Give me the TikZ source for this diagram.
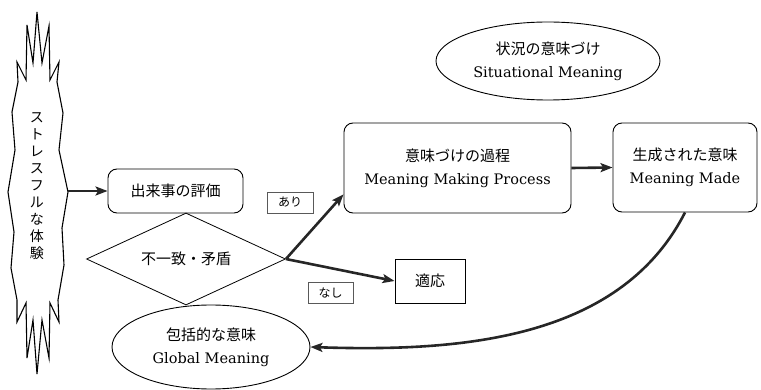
\documentclass[tikz,border=0pt]{standalone}
\usepackage{fontspec}
\newfontfamily\jp{Noto Sans CJK JP}
\newfontfamily\lt{DejaVu Serif}
\usetikzlibrary{shapes.geometric,arrows.meta,calc}
\newcommand\latf{\lt\fontsize{14.5}{23}\selectfont}
\newcommand\jt{\jp\fontsize{15}{23}\selectfont}
\begin{document}
\begin{tikzpicture}[x=1pt,y=-1pt,
  rbox/.style={draw,line width=0.9pt,rounded corners=9pt,inner sep=0pt,align=center,font=\latf},
  sbox/.style={draw,line width=0.9pt,inner sep=0pt,align=center,font=\latf},
  lbl/.style={draw=black!65,line width=0.7pt,inner sep=0pt,font=\jp\fontsize{12}{14}\selectfont,minimum height=21pt},
  ell/.style={draw,line width=0.9pt,ellipse,inner sep=0pt,align=center,font=\latf},
  arr/.style={line width=2.6pt,draw=black!85,-{Stealth[length=12pt,width=9pt,inset=2.5pt]}},
]
\useasboundingbox (0,0) rectangle (761,390);

% stressful experience shape
\draw[line width=1.1pt,line join=miter] (18,82) -- (17,62) -- (26,80) -- (27,25) -- (33,63) -- (37,12) -- (42,63)
  -- (49,26) -- (50,80) -- (59,62) -- (57,82) -- (63,113) -- (59,150) -- (68,192) -- (62,228)
  -- (64,265) -- (58,300) -- (59,322) -- (50,303) -- (49,358) -- (42,320) -- (37,374) -- (33,320)
  -- (27,358) -- (26,303) -- (17,322) -- (17,300) -- (11,268) -- (14,232) -- (8,192) -- (15,150)
  -- (12,112) -- cycle;
\node[inner sep=0pt,align=center,font=\jp\fontsize{14}{17}\selectfont] (stress) at (37,186)
  {ス\\ト\\レ\\ス\\フ\\ル\\な\\体\\験};
\coordinate (stressR) at (68,191);

\node[rbox,minimum width=135pt,minimum height=44pt] (eval) at (175.5,191) {\jt 出来事の評価};
\node[draw,line width=0.8pt,diamond,inner sep=0pt,shape aspect=2.16,minimum width=199pt,minimum height=92pt,
  font=\jt] (diam) at (186,259) {不一致・矛盾};
\node[ell,minimum width=198pt,minimum height=84pt] (gm) at (211,347) {{\jt 包括的な意味}\\Global Meaning};
\node[ell,minimum width=224pt,minimum height=78pt] (sm) at (548,61) {{\jt 状況の意味づけ}\\Situational Meaning};

\node[lbl,minimum width=46pt] (ari) at (290,202.5) {あり};
\node[lbl,minimum width=45pt] (nashi) at (330.5,293) {なし};
\node[sbox,minimum width=70pt,minimum height=44pt] (adapt) at (430,281) {\jt 適応};

\node[rbox,minimum width=227pt,minimum height=90pt] (mmp) at (457.5,168) {{\jt 意味づけの過程}\\Meaning Making Process};
\node[rbox,minimum width=144pt,minimum height=89pt] (mm) at (685,167.5) {{\jt 生成された意味}\\Meaning Made};

\draw[arr] (stressR) -- (eval.west);
\draw[arr] (diam.east) -- (mmp.193);
\draw[arr] (diam.east) -- (adapt.west);
\draw[arr] (mmp.east) -- (mm.west);
\draw[arr] (mm.south) .. controls (620,340) and (460,352) .. (gm.east);
\end{tikzpicture}
\end{document}
